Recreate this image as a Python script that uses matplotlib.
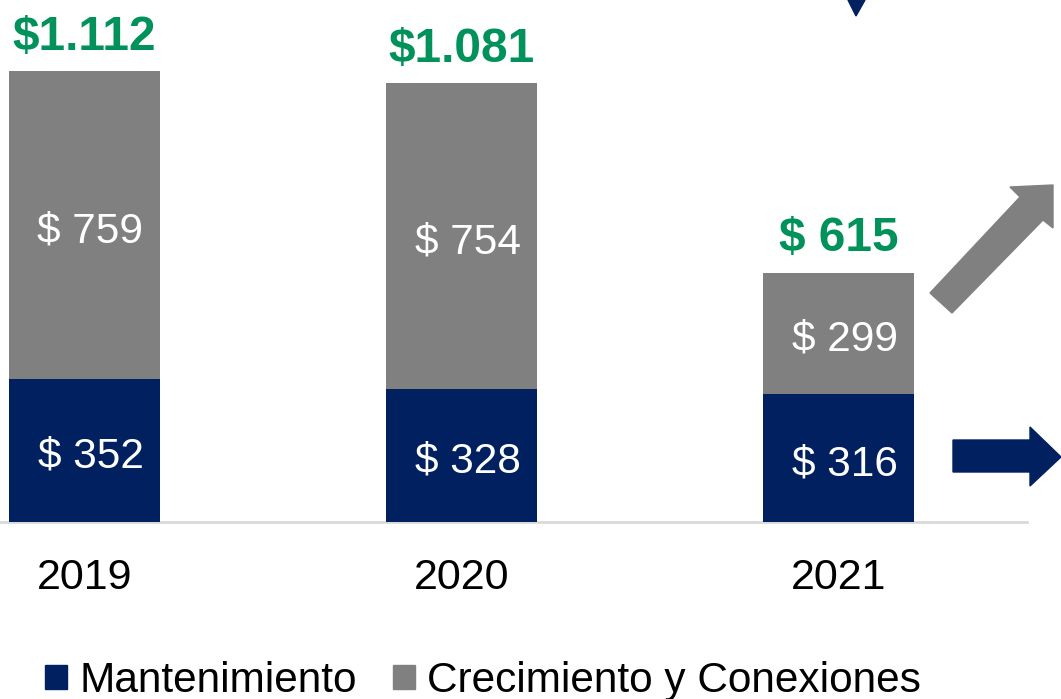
import matplotlib
matplotlib.use("Agg")
import matplotlib.pyplot as plt
from matplotlib.patches import Patch, Polygon

years = ["2019", "2020", "2021"]
mantenimiento = [352, 328, 316]
crecimiento = [759, 754, 299]
totals = [1112, 1081, 615]
total_labels = ["$1.112", "$1.081", "$ 615"]
legend_labels = ["Mantenimiento", "Crecimiento y Conexiones"]

NAVY = "#002060"
GRAY = "#808080"
GREEN = "#00925A"

plt.rcParams["font.family"] = ["Liberation Sans", "DejaVu Sans"]

W, H = 1061, 699
fig = plt.figure(figsize=(W / 100, H / 100), dpi=100)
ax = fig.add_axes([0, 1 - 522 / H, 1027 / W, 522 / H])

x = list(range(len(years)))
b1 = ax.bar(x, mantenimiento, width=0.4, color=NAVY, zorder=3)
b2 = ax.bar(x, crecimiento, width=0.4, bottom=mantenimiento, color=GRAY, zorder=3)

for i in x:
    ax.text(i + 0.016, mantenimiento[i] / 2 - 15, f"$ {mantenimiento[i]}", ha="center", va="center",
            color="white", fontsize=30.5)
    ax.text(i + 0.016, mantenimiento[i] + crecimiento[i] / 2 - 15, f"$ {crecimiento[i]}", ha="center",
            va="center", color="white", fontsize=30.5)
    ax.annotate(total_labels[i], (i, totals[i]), xytext=(0, 8), textcoords="offset points",
                ha="center", va="bottom", color=GREEN, fontsize=34.5, fontweight="bold")

ax.set_xlim(-0.224, 2.5)
ax.set_ylim(0, 1287)
ax.set_xticks(x)
ax.set_xticklabels(years, fontsize=31)
ax.tick_params(axis="x", length=0, pad=26)
ax.set_yticks([])
for s in ["top", "right", "left"]:
    ax.spines[s].set_visible(False)
ax.spines["bottom"].set_color("#D9D9D9")
ax.spines["bottom"].set_linewidth(2)
ax.patch.set_alpha(0)

def px(pts):
    return [(a / W, 1 - b / H) for a, b in pts]

# decorative arrows
fig.patches.append(Polygon(px([(848, 0), (865, 0), (856, 16)]), closed=True,
                           transform=fig.transFigure, color=NAVY))
fig.patches.append(Polygon(px([(930, 293), (1020, 197), (1010, 187), (1053, 185),
                               (1053, 228), (1043, 220), (952, 313)]), closed=True,
                           transform=fig.transFigure, color=GRAY))
fig.patches.append(Polygon(px([(953, 440), (1030, 440), (1030, 427), (1061, 457),
                               (1030, 486), (1030, 472), (953, 472)]), closed=True,
                           transform=fig.transFigure, color=NAVY))

handles = [Patch(color=NAVY), Patch(color=GRAY)]
fig.legend(handles, legend_labels, loc="center", bbox_to_anchor=(483 / W, 1 - 681 / H),
           ncol=2, frameon=False, fontsize=30.5, handlelength=0.52, handleheight=0.52,
           handletextpad=0.28, columnspacing=0.85, borderpad=0)

fig.savefig("out.png", dpi=100)
